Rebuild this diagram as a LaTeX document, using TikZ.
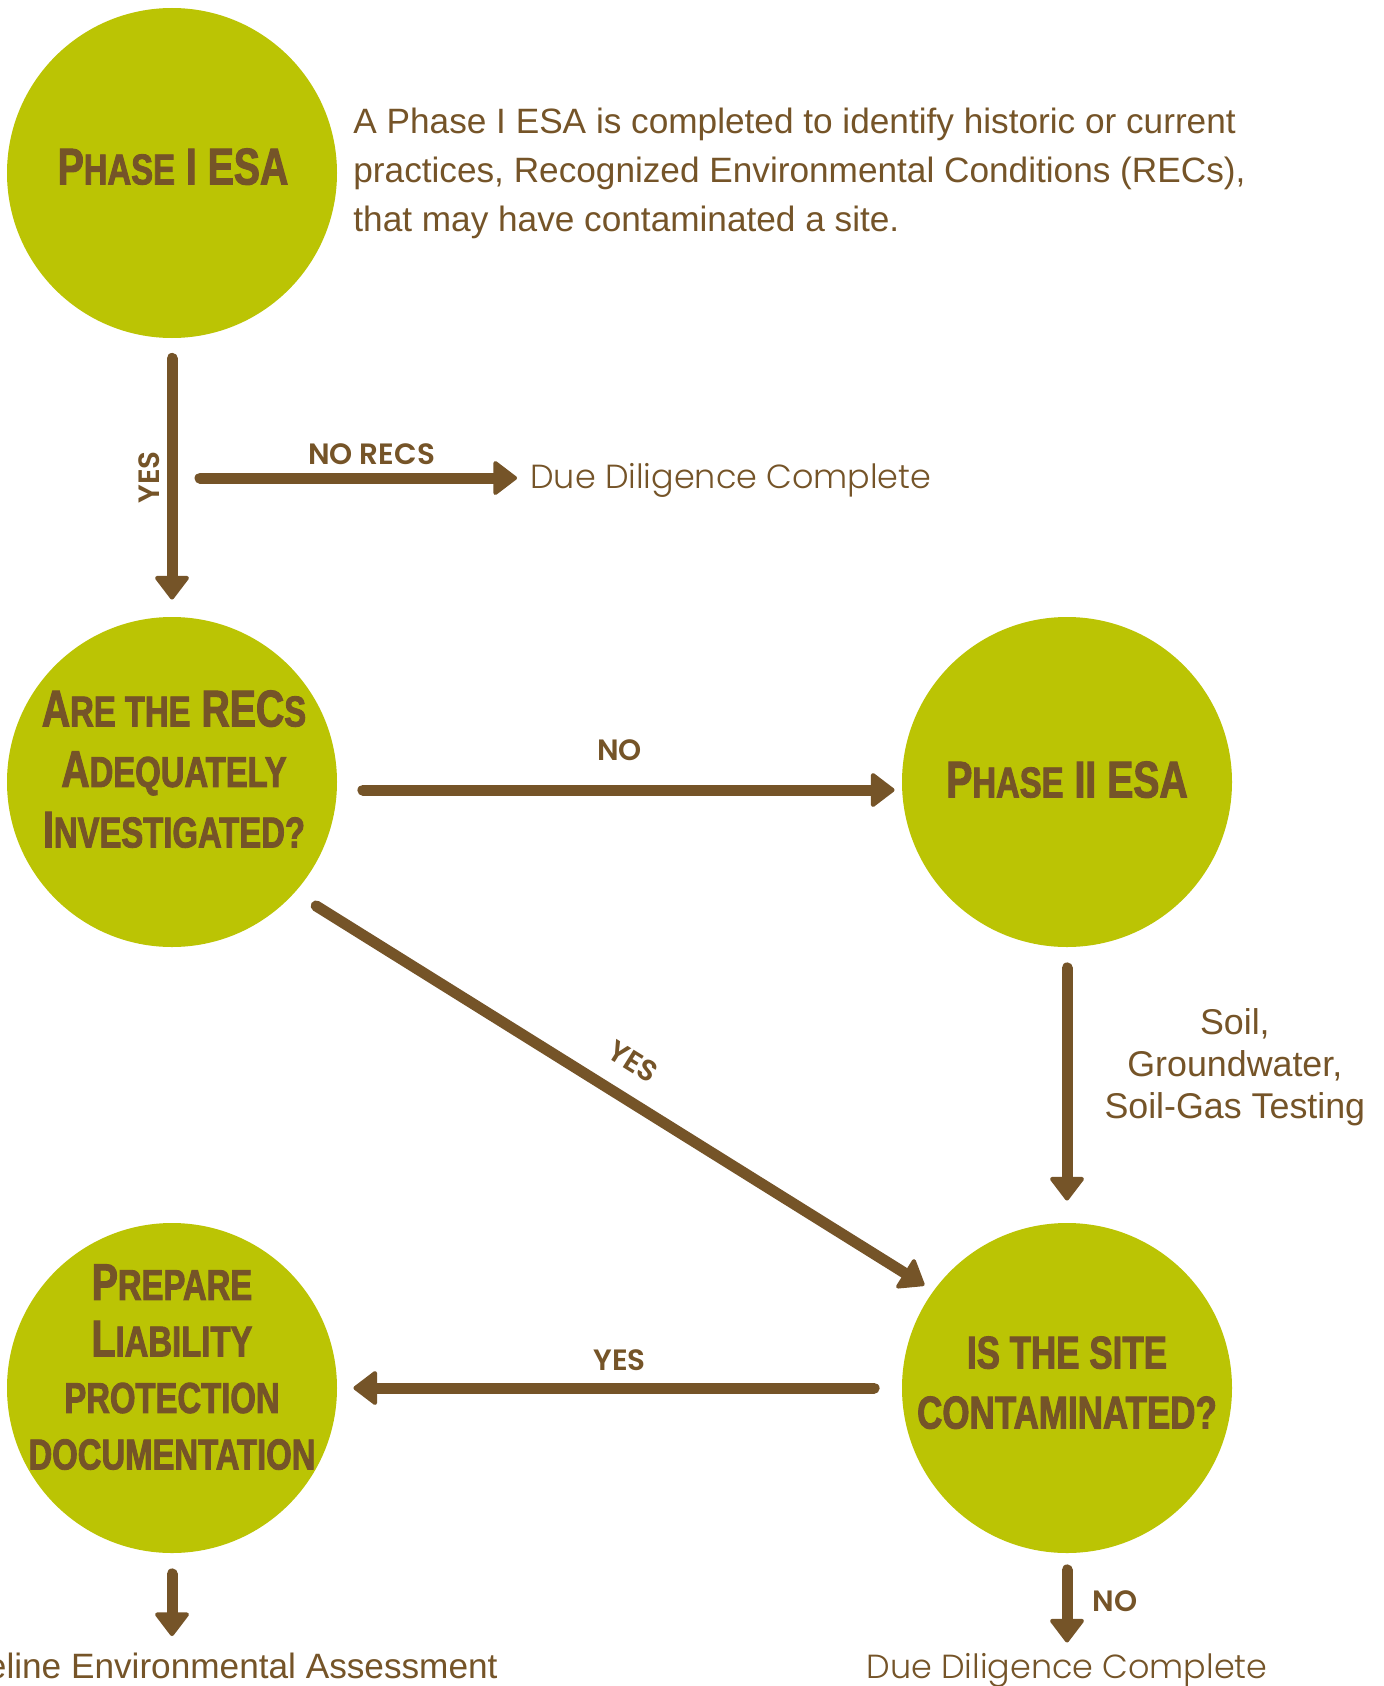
\documentclass[tikz,border=0pt]{standalone}
\usepackage{fontspec}
\usetikzlibrary{arrows.meta}
\setmainfont{Liberation Sans}
\newfontfamily\headfont{Liberation Sans}[UprightFont={* Bold}, FakeStretch=0.76, FakeBold=2]
\newfontfamily\lblfont{Poppins}[UprightFont={* SemiBold}]
\newfontfamily\resultfont{Poppins}[UprightFont={* Light}]
\definecolor{esagreen}{RGB}{187,196,4}
\definecolor{esabrown}{RGB}{117,84,40}
\newcommand{\lowcap}[1]{{\fontsize{21.6}{21.6}\selectfont #1}}

\begin{document}
\begin{tikzpicture}[x=0.5pt, y=-0.5pt,
    stage/.style={circle, fill=esagreen, minimum size=165pt, inner sep=0pt},
    heading/.style={text=esabrown, align=center, inner sep=0pt, anchor=north, font=\headfont\fontsize{25.8}{30.25}\selectfont},
    lbl/.style={text=esabrown, inner sep=0pt, font=\lblfont\fontsize{14.7}{14.7}\selectfont},
    body/.style={text=esabrown, inner sep=0pt, font=\fontsize{17.6}{24.35}\selectfont},
    result/.style={text=esabrown, inner sep=0pt, font=\resultfont\fontsize{16.7}{16.7}\selectfont},
    flow/.style={draw=esabrown, line width=5.5pt, line cap=round, -{Triangle[length=12.5pt, width=18.5pt, line width=2pt, round]}}]

    \useasboundingbox (0,0) rectangle (1384,1686);
    \fill[white] (0,0) rectangle (1384,1686);

    \node[stage] (phaseone) at (172,173) {};
    \node[stage] (recs) at (172,782) {};
    \node[stage] (phasetwo) at (1067,782) {};
    \node[stage] (site) at (1067,1388) {};
    \node[stage] (prepare) at (172,1388) {};

    \node[heading] (phaseone text) at (173,148) {P\lowcap{HASE} I ESA};
    \node[heading] (recs text) at (174,690) {A\lowcap{RE THE} REC\lowcap{S}\\A\lowcap{DEQUATELY}\\I\lowcap{NVESTIGATED?}};
    \node[heading] (phasetwo text) at (1067,761) {P\lowcap{HASE} II ESA};
    \node[heading, font=\headfont\fontsize{23}{30}\selectfont] (site text) at (1067,1336) {IS THE SITE\\CONTAMINATED?};
    \node[heading, font=\headfont\fontsize{25.8}{28.25}\selectfont] (prepare text) at (172,1264) {P\lowcap{REPARE}\\L\lowcap{IABILITY}\\\lowcap{PROTECTION}\\\lowcap{DOCUMENTATION}};

    \node[body, align=left, anchor=north west] (intro) at (353,108) {A Phase I ESA is completed to identify historic or current\\practices, Recognized Environmental Conditions (RECs),\\that may have contaminated a site.};

    \coordinate (norecs) at (200,478);
    \node[result, anchor=base west] (done1) at (530,488) {Due Diligence Complete};
    \node[result, anchor=base] (done2) at (1067,1678) {Due Diligence Complete};
    \node[body, anchor=base east] (baseline) at (498,1678) {Baseline Environmental Assessment};

    \draw[flow, shorten <=10pt, shorten >=8.5pt] (phaseone) -- (recs) node[lbl, midway, rotate=90, anchor=south, inner ysep=3.5pt] {YES};
    \draw[flow, shorten >=6.5pt] (norecs) -- (norecs -| done1.west) node[lbl, pos=0.52, above=4pt] {NO RECS};
    \draw[flow, shorten <=12.75pt, shorten >=3.5pt] ([yshift=-4pt]recs.east) -- ([yshift=-4pt]phasetwo.west) node[lbl, midway, above=11.8pt] {NO};
    \draw[flow, shorten <=10.25pt, shorten >=11pt] (phasetwo) -- (site) node[body, midway, right=16pt, yshift=9pt, align=center, font=\fontsize{17.9}{21}\selectfont] {Soil,\\Groundwater,\\Soil-Gas Testing};
    \draw[flow, shorten <=12.5pt, shorten >=5.2pt] (recs.-42) -- (site.144) node[lbl, midway, sloped, anchor=south, inner ysep=10pt] {YES};
    \draw[flow, shorten <=13.75pt, shorten >=8pt] (site) -- (prepare) node[lbl, midway, above=6pt] {YES};
    \draw[flow, shorten <=8.25pt, shorten >=5pt] (site) -- (done2) node[lbl, midway, right=10pt, yshift=1pt] {NO};
    \draw[flow, shorten <=10.25pt, shorten >=8pt] (prepare) -- (prepare |- baseline.north);

\end{tikzpicture}
\end{document}
